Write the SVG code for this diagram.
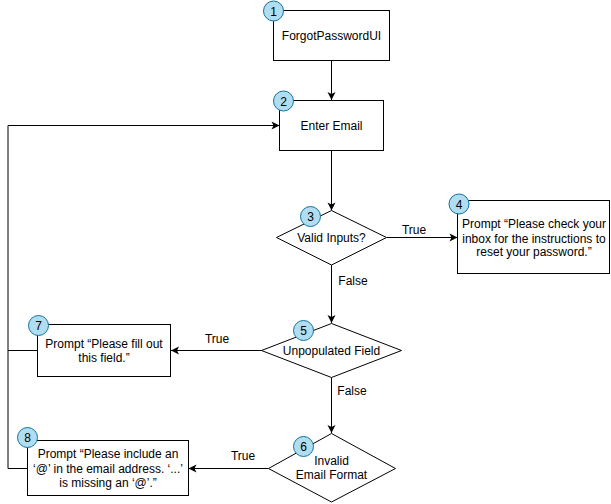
<svg xmlns="http://www.w3.org/2000/svg" width="611" height="504" viewBox="0 0 611 504">
<defs>
<marker id="arr" markerWidth="10" markerHeight="10" refX="9" refY="5" orient="auto" markerUnits="userSpaceOnUse">
<path d="M1,1 L9,5 L1,9 L3,5 Z" fill="#000"/>
</marker>
<style>
.box{fill:#fff;stroke:#000;stroke-width:1}
.badge{fill:#b1ddf0;stroke:#10739e;stroke-width:1}
.t{font-family:"Liberation Sans",Arial,sans-serif;font-size:12px;fill:#000;text-anchor:middle}
.e{fill:none;stroke:#000;stroke-width:1}
.ea{fill:none;stroke:#000;stroke-width:1;marker-end:url(#arr)}
</style>
</defs>
<rect width="611" height="504" fill="#fff"/>
<g id="connectors">
<path class="ea" d="M331.5,60 V100"/>
<path class="ea" d="M331.5,151 V210.5"/>
<path class="ea" d="M386.5,237.5 H457.5"/>
<path class="ea" d="M331.5,265 V323"/>
<path class="ea" d="M261.5,350.5 H171"/>
<path class="ea" d="M331.5,377.5 V433"/>
<path class="ea" d="M268.5,468.5 H188.5"/>
<path class="e" d="M37,350.5 H8"/>
<path class="ea" d="M27,468.5 H8 V125.5 H279.5"/>
<text class="t" x="414" y="234">True</text>
<text class="t" x="353" y="285">False</text>
<text class="t" x="217" y="343">True</text>
<text class="t" x="352" y="395">False</text>
<text class="t" x="243" y="460">True</text>
</g>
<g id="node1">
<rect class="box" x="273.5" y="10.5" width="116" height="50"/>
<text class="t" x="331.5" y="39.5">ForgotPasswordUI</text>
<circle class="badge" cx="273.5" cy="11" r="10"/>
<text class="t" x="273.5" y="15.5">1</text>
</g>
<g id="node2">
<rect class="box" x="279.5" y="100.5" width="104" height="50"/>
<text class="t" x="331.5" y="130">Enter Email</text>
<circle class="badge" cx="283.5" cy="101" r="10"/>
<text class="t" x="283.5" y="105.5">2</text>
</g>
<g id="node3">
<path class="box" d="M331.5,210.5 L386.5,237.5 L331.5,265 L276.5,237.5 Z"/>
<text class="t" x="331.5" y="242">Valid Inputs?</text>
<circle class="badge" cx="310.5" cy="216.5" r="10"/>
<text class="t" x="310.5" y="221">3</text>
</g>
<g id="node4">
<rect class="box" x="457.5" y="200.5" width="152" height="73"/>
<text class="t" x="534" y="227.5">Prompt “Please check your</text>
<text class="t" x="534" y="243">inbox for the instructions to</text>
<text class="t" x="534" y="256">reset your password.”</text>
<circle class="badge" cx="459" cy="204" r="10"/>
<text class="t" x="459" y="208.5">4</text>
</g>
<g id="node5">
<path class="box" d="M331.5,323.5 L401.5,350.5 L331.5,377.5 L261.5,350.5 Z"/>
<text class="t" x="331.5" y="355">Unpopulated Field</text>
<circle class="badge" cx="303.5" cy="330.5" r="10"/>
<text class="t" x="303.5" y="335">5</text>
</g>
<g id="node6">
<path class="box" d="M331.5,433.5 L395.5,468.5 L331.5,502 L268.5,468.5 Z"/>
<text class="t" x="331.5" y="465">Invalid</text>
<text class="t" x="331.5" y="479">Email Format</text>
<circle class="badge" cx="303.5" cy="446.5" r="10"/>
<text class="t" x="303.5" y="451">6</text>
</g>
<g id="node7">
<rect class="box" x="37.5" y="324.5" width="133" height="52"/>
<text class="t" x="104" y="347.5">Prompt “Please fill out</text>
<text class="t" x="104" y="361.5">this field.”</text>
<circle class="badge" cx="38.5" cy="325.5" r="10"/>
<text class="t" x="38.5" y="330">7</text>
</g>
<g id="node8">
<rect class="box" x="27.5" y="440.5" width="161" height="55"/>
<text class="t" x="108" y="457.5">Prompt “Please include an</text>
<text class="t" x="108" y="473">‘@’ in the email address. ‘...’</text>
<text class="t" x="108" y="487">is missing an ‘@’.”</text>
<circle class="badge" cx="27.5" cy="437.5" r="10"/>
<text class="t" x="27.5" y="442">8</text>
</g>
</svg>
